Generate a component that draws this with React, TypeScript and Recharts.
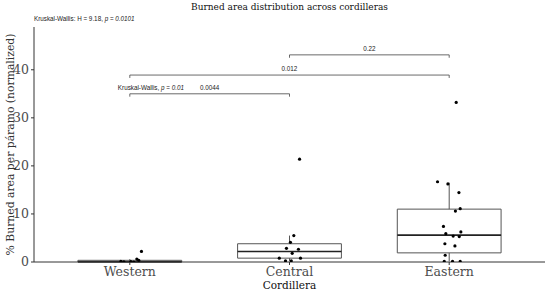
import {
  ReferenceArea,
  ReferenceLine,
  Scatter,
  ScatterChart,
  XAxis,
  YAxis,
} from "recharts";

const categories = ["Western", "Central", "Eastern"];

// box stats
const boxQ1 = [0, 0.8, 1.9];
const boxMedian = [0.05, 2.2, 5.6];
const boxQ3 = [0.35, 3.8, 11.0];
const whiskerLow = [0, 0.25, 0.15];
const whiskerHigh = [0.6, 5.5, 16.5];

// jittered points: value + horizontal offset from category center
const westernValues = [0.15, 0.05, 0.1, 0.0, 0.6, 0.35, 2.2];
const westernJitter = [-0.056, -0.037, 0.006, 0.025, 0.044, 0.056, 0.073];
const centralValues = [21.4, 5.5, 4.1, 2.85, 2.65, 1.8, 0.8, 0.8, 0.25, 0.25];
const centralJitter = [0.063, 0.027, 0.006, -0.019, 0.056, 0.017, -0.064, 0.069, -0.025, 0.011];
const easternValues = [
  33.2, 16.7, 16.25, 14.45, 11.1, 10.6, 7.4, 6.25, 5.9, 5.4, 5.3, 3.8, 3.35, 1.4, 0.15, 0.15, 0.15,
];
const easternJitter = [
  0.044, -0.073, -0.008, 0.061, 0.069, 0.039, -0.036, 0.073, -0.021, 0.025, 0.063, -0.027, 0.036,
  -0.025, -0.031, 0.021, 0.069,
];

// pairwise comparisons
const bracketFrom = [1, 1, 2];
const bracketTo = [2, 3, 3];
const bracketY = [35.0, 38.9, 43.1];
const bracketP = ["0.0044", "0.012", "0.22"];

const yTicks = [0, 10, 20, 30, 40];

const SERIF = "'DejaVu Serif', serif";
const SANS = "'Liberation Sans', Arial, sans-serif";
const BOX_HALF = 0.325;
const TICK = 0.6;

const points = [
  ...westernValues.map((v, i) => ({ x: 1 + westernJitter[i], y: v })),
  ...centralValues.map((v, i) => ({ x: 2 + centralJitter[i], y: v })),
  ...easternValues.map((v, i) => ({ x: 3 + easternJitter[i], y: v })),
];

const labels = [
  ...bracketP.map((p, i) => ({
    x: (bracketFrom[i] + bracketTo[i]) / 2,
    y: bracketY[i] + 0.8,
    text: p,
    anchor: "middle",
    italicP: false,
  })),
  { x: 0.925, y: 35.8, text: "Kruskal-Wallis, ", anchor: "start", italicP: true },
];

const TextMark = (props: any) => {
  const { cx, cy, payload } = props;
  if (payload.italicP) {
    return (
      <text x={cx} y={cy} fontSize={6.3} fontFamily={SANS} fill="#222" textAnchor="start">
        {payload.text}
        <tspan fontStyle="italic">p</tspan>
        {" = "}
        <tspan fontStyle="italic">0.01</tspan>
      </text>
    );
  }
  return (
    <text x={cx} y={cy} fontSize={6.3} fontFamily={SANS} fill="#222" textAnchor={payload.anchor}>
      {payload.text}
    </text>
  );
};

const Dot = (props: any) => <circle cx={props.cx} cy={props.cy} r={1.6} fill="#000" />;

export default function App() {
  return (
    <div style={{ position: "relative", width: 550, height: 293, background: "#fff" }}>
      <style>{`body{margin:0}`}</style>
      <div
        style={{
          position: "absolute",
          left: 0,
          width: 579,
          top: 2,
          textAlign: "center",
          fontFamily: SERIF,
          fontSize: 9,
          color: "#111",
        }}
      >
        Burned area distribution across cordilleras
      </div>
      <div
        style={{
          position: "absolute",
          left: 34,
          top: 15,
          fontFamily: SANS,
          fontSize: 6.3,
          color: "#222",
          whiteSpace: "nowrap",
        }}
      >
        Kruskal-Wallis: H = 9.18, <i>p</i> = <i>0.0101</i>
      </div>
      <ScatterChart
        width={550}
        height={293}
        margin={{ top: 27, right: 5, left: 0, bottom: 0 }}
      >
        <XAxis
          type="number"
          dataKey="x"
          domain={[0.4, 3.6]}
          ticks={[1, 2, 3]}
          tickFormatter={(v) => categories[v - 1]}
          tick={{ fill: "#4d4d4d", fontSize: 12.5, fontFamily: SERIF }}
          tickSize={3}
          stroke="#333"
          height={31}
          allowDataOverflow
          label={{
            value: "Cordillera",
            position: "insideBottom",
            offset: 4,
            fill: "#111",
            fontSize: 10.5,
            fontFamily: SERIF,
          }}
        />
        <YAxis
          type="number"
          dataKey="y"
          domain={[0, 48.9]}
          ticks={yTicks}
          width={34}
          tick={{ fill: "#4d4d4d", fontSize: 12.5, fontFamily: SERIF }}
          tickSize={3}
          stroke="#333"
          allowDataOverflow
          label={{
            value: "% Burned area per páramo (normalized)",
            angle: -90,
            position: "insideLeft",
            offset: 10,
            style: { textAnchor: "middle" },
            fill: "#333",
            fontSize: 10.8,
            fontFamily: SERIF,
          }}
        />
        {categories.map((c, i) => (
          <ReferenceArea
            key={"box" + c}
            x1={i + 1 - BOX_HALF}
            x2={i + 1 + BOX_HALF}
            y1={boxQ1[i]}
            y2={boxQ3[i]}
            fill="#fff"
            fillOpacity={0}
            stroke="#555"
            strokeWidth={1}
            ifOverflow="visible"
          />
        ))}
        {categories.map((c, i) => (
          <ReferenceLine
            key={"med" + c}
            segment={[
              { x: i + 1 - BOX_HALF, y: boxMedian[i] },
              { x: i + 1 + BOX_HALF, y: boxMedian[i] },
            ]}
            stroke="#222"
            strokeWidth={1.6}
          />
        ))}
        {categories.map((c, i) => (
          <ReferenceLine
            key={"wh" + c}
            segment={[
              { x: i + 1, y: boxQ3[i] },
              { x: i + 1, y: whiskerHigh[i] },
            ]}
            stroke="#555"
          />
        ))}
        {categories.map((c, i) => (
          <ReferenceLine
            key={"wl" + c}
            segment={[
              { x: i + 1, y: whiskerLow[i] },
              { x: i + 1, y: boxQ1[i] },
            ]}
            stroke="#555"
          />
        ))}
        {bracketP.map((p, i) => (
          <ReferenceLine
            key={"br" + i}
            segment={[
              { x: bracketFrom[i], y: bracketY[i] },
              { x: bracketTo[i], y: bracketY[i] },
            ]}
            stroke="#444"
            strokeWidth={0.8}
          />
        ))}
        {bracketP.map((p, i) => (
          <ReferenceLine
            key={"bl" + i}
            segment={[
              { x: bracketFrom[i], y: bracketY[i] },
              { x: bracketFrom[i], y: bracketY[i] - TICK },
            ]}
            stroke="#444"
            strokeWidth={0.8}
          />
        ))}
        {bracketP.map((p, i) => (
          <ReferenceLine
            key={"brr" + i}
            segment={[
              { x: bracketTo[i], y: bracketY[i] },
              { x: bracketTo[i], y: bracketY[i] - TICK },
            ]}
            stroke="#444"
            strokeWidth={0.8}
          />
        ))}
        <Scatter data={points} shape={<Dot />} isAnimationActive={false} />
        <Scatter data={labels} shape={<TextMark />} isAnimationActive={false} />
      </ScatterChart>
    </div>
  );
}
